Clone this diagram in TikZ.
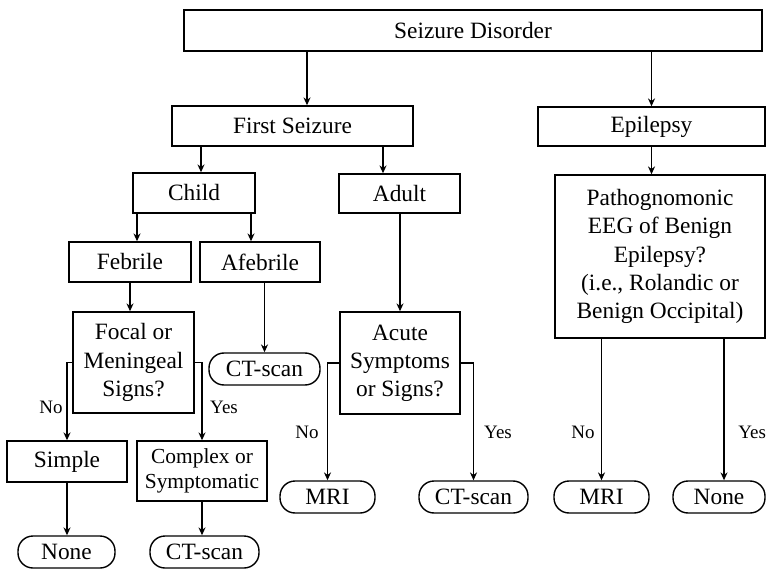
\documentclass[tikz,border=0pt]{standalone}
\usepackage{fontspec}
\setmainfont{Liberation Serif}
\usetikzlibrary{arrows.meta}
\tikzset{
  every picture/.append style={font=\fontsize{13.3}{16}\selectfont, >=Stealth},
  blk/.style={rectangle, draw=black, line width=0.8pt, align=center, inner sep=1pt},
  term/.style={blk, rounded corners=0.3cm},
  lbl/.style={font=\fontsize{10.8}{12}\selectfont, inner sep=0pt},
  flow/.style={-{Stealth[length=4.5pt,width=4pt]}, line width=0.75pt},
}
\begin{document}
\begin{tikzpicture}[x=1cm,y=1cm]
\useasboundingbox (0,0) rectangle (15.34,-11.38);

% ---------------- top levels ---------------------------------------------------
\node[blk, minimum width=11.56cm, minimum height=0.82cm] (sd) at (9.46,-0.61) {Seizure Disorder};
\node[blk, minimum width=4.82cm, minimum height=0.80cm] (fs) at (5.85,-2.52) {First Seizure};
\node[blk, minimum width=4.54cm, minimum height=0.78cm] (ep) at (13.03,-2.53) {Epilepsy};
\draw[flow] ([xshift=0.29cm]fs.north |- sd.south) -- ([xshift=0.29cm]fs.north);
\draw[flow] (sd.south -| ep.north) -- (ep.north);

% ---------------- first seizure --------------------------------------------------
\node[blk, minimum width=2.44cm, minimum height=0.80cm] (child) at (3.88,-3.86) {Child};
\node[blk, minimum width=2.42cm, minimum height=0.78cm] (adult) at (7.99,-3.87) {Adult};
\draw[flow] ([xshift=0.14cm]child.north |- fs.south) -- ([xshift=0.14cm]child.north);
\draw[flow] ([xshift=-0.33cm]adult.north |- fs.south) -- ([xshift=-0.33cm]adult.north);

% ---------------- child branch ---------------------------------------------------
\node[blk, minimum width=2.44cm, minimum height=0.80cm] (feb) at (2.6,-5.24) {Febrile};
\node[blk, minimum width=2.40cm, minimum height=0.80cm] (afeb) at (5.2,-5.24) {Afebrile};
\draw[flow] ([xshift=0.14cm]feb.north |- child.south) -- ([xshift=0.14cm]feb.north);
\draw[flow] ([xshift=-0.18cm]afeb.north |- child.south) -- ([xshift=-0.18cm]afeb.north);

\node[blk, minimum width=2.42cm, minimum height=2.02cm] (focal) at (2.67,-7.25) {Focal or\\Meningeal\\Signs?};
\node[term, minimum width=2.22cm, minimum height=0.64cm] (ctA) at (5.29,-7.38) {CT-scan};
\draw[flow] (feb.south) -- (feb.south |- focal.north);
\draw[flow] (ctA.north |- afeb.south) -- (ctA.north);

\node[blk, minimum width=2.40cm, minimum height=0.82cm] (simple) at (1.34,-9.23) {Simple};
\node[blk, minimum width=2.60cm, minimum height=1.20cm, font=\fontsize{12.2}{14.6}\selectfont] (cplx) at (4.04,-9.42) {Complex or\\Symptomatic};
\draw[flow] (focal.west) -| (simple.north);
\draw[flow] (focal.east) -| (cplx.north);
\node[lbl] (noA) at (1.02,-8.14) {No};
\node[lbl] (yesA) at (4.48,-8.14) {Yes};

\node[term, minimum width=1.94cm, minimum height=0.64cm] (noneA) at (1.33,-11.04) {None};
\node[term, minimum width=2.18cm, minimum height=0.64cm] (ctC) at (4.09,-11.04) {CT-scan};
\draw[flow] (simple.south) -- (simple.south |- noneA.north);
\draw[flow] (cplx.south) -- (cplx.south |- ctC.north);

% ---------------- adult branch ---------------------------------------------------
\node[blk, minimum width=2.40cm, minimum height=2.04cm] (acute) at (8.0,-7.26) {Acute\\Symptoms\\or Signs?};
\draw[flow] (acute.north |- adult.south) -- (acute.north);
\node[term, minimum width=1.90cm, minimum height=0.64cm] (mriA) at (6.55,-9.94) {MRI};
\node[term, minimum width=2.18cm, minimum height=0.64cm] (ctB) at (9.47,-9.94) {CT-scan};
\draw[flow] (acute.west) -| (mriA.north);
\draw[flow] (acute.east) -| (ctB.north);
\node[lbl] (noB) at (6.14,-8.64) {No};
\node[lbl] (yesB) at (9.96,-8.64) {Yes};

% ---------------- epilepsy branch ------------------------------------------------
\node[blk, minimum width=4.20cm, minimum height=3.26cm] (path) at (13.2,-5.13)
  {Pathognomonic\\EEG of Benign\\Epilepsy?\\(i.e., Rolandic or\\Benign Occipital)};
\draw[flow] (ep.south) -- (ep.south |- path.north);
\node[term, minimum width=1.90cm, minimum height=0.64cm] (mriB) at (12.03,-9.94) {MRI};
\node[term, minimum width=1.84cm, minimum height=0.64cm] (noneB) at (14.38,-9.94) {None};
\draw[flow] (mriB.north |- path.south) -- (mriB.north);
\draw[flow] ([xshift=0.1cm]noneB.north |- path.south) -- ([xshift=0.1cm]noneB.north);
\node[lbl] (noC) at (11.66,-8.64) {No};
\node[lbl, anchor=west] (yesC) at (14.76,-8.64) {Yes};

\end{tikzpicture}
\end{document}
